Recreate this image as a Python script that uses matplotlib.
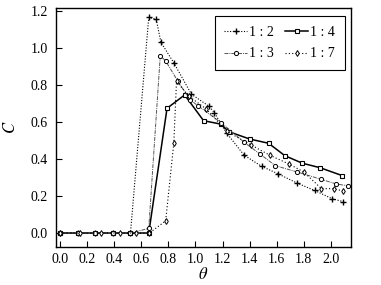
import matplotlib.pyplot as plt

# -------------------------
# DATA
# -------------------------
x_12 = [0.0, 0.13, 0.26, 0.39, 0.52, 0.655, 0.71, 0.745, 0.84, 0.97, 1.10, 1.14,
        1.23, 1.36, 1.49, 1.61, 1.75, 1.88, 2.01, 2.09]
y_12 = [0.0, 0.0, 0.0, 0.0, 0.0, 1.165, 1.155, 1.03, 0.92, 0.75, 0.685, 0.65,
        0.54, 0.42, 0.36, 0.32, 0.27, 0.23, 0.185, 0.17]

x_14 = [0.0, 0.13, 0.26, 0.39, 0.52, 0.655, 0.79, 0.92, 1.06, 1.19, 1.245,
        1.40, 1.54, 1.66, 1.79, 1.92, 2.085]
y_14 = [0.0, 0.0, 0.0, 0.0, 0.0, 0.0, 0.674, 0.746, 0.607, 0.588, 0.548,
        0.508, 0.485, 0.418, 0.377, 0.353, 0.31]

x_13 = [0.0, 0.13, 0.26, 0.39, 0.52, 0.655, 0.74, 0.78, 0.87, 0.96, 1.02,
        1.19, 1.36, 1.48, 1.59, 1.75, 1.93, 2.04, 2.13]
y_13 = [0.0, 0.0, 0.0, 0.0, 0.0, 0.025, 0.958, 0.93, 0.82, 0.72, 0.687,
        0.596, 0.49, 0.425, 0.364, 0.33, 0.29, 0.265, 0.255]

x_17 = [0.0, 0.15, 0.30, 0.44, 0.56, 0.66, 0.78, 0.84, 0.86, 0.95, 1.08,
        1.23, 1.41, 1.55, 1.69, 1.80, 1.93, 2.02, 2.09]
y_17 = [0.0, 0.0, 0.0, 0.0, 0.0, 0.0, 0.066, 0.485, 0.82, 0.74, 0.67,
        0.55, 0.476, 0.42, 0.373, 0.33, 0.24, 0.24, 0.227]

plt.rcParams['font.family'] = 'Liberation Serif'
plt.rcParams['font.size'] = 10
plt.rcParams['mathtext.fontset'] = 'stix'

fig = plt.figure(figsize=(3.81, 2.85), dpi=100)
ax = fig.add_axes([0.147, 0.133, 0.774, 0.839])

l12, = ax.plot(x_12, y_12, color='black', ls=(0, (1, 1.5)), lw=0.8,
               marker='+', ms=4.5, mew=1.0, label='1 : 2')
l14, = ax.plot(x_14, y_14, color='black', ls='-', lw=1.1,
               marker='s', ms=3.2, mfc='white', mew=0.8, label='1 : 4')
l13, = ax.plot(x_13, y_13, color='#555555', ls=(0, (4, 1, 1, 1)), lw=0.7,
               marker='o', ms=3.0, mfc='white', mec='black', mew=0.7, label='1 : 3')
l17, = ax.plot(x_17, y_17, color='black', ls=(0, (1, 2)), lw=0.8,
               marker='d', ms=3.0, mfc='white', mew=0.7, label='1 : 7')

ax.set_xlim(-0.03, 2.148)
ax.set_ylim(-0.076, 1.216)
ax.set_xticks([0.0, 0.2, 0.4, 0.6, 0.8, 1.0, 1.2, 1.4, 1.6, 1.8, 2.0])
ax.set_yticks([0.0, 0.2, 0.4, 0.6, 0.8, 1.0, 1.2])
ax.xaxis.set_major_formatter(plt.FormatStrFormatter('%.1f'))
ax.yaxis.set_major_formatter(plt.FormatStrFormatter('%.1f'))
ax.tick_params(direction='in', length=4, width=0.8, labelsize=10, pad=4)
ax.tick_params(axis='y', pad=6)

for s in ax.spines.values():
    s.set_linewidth(1.0)

ax.set_xlabel(r'$\theta$', fontsize=12, labelpad=1)
ax.set_ylabel(r'$C$', fontsize=12, labelpad=8)

# row-wise legend: 1:2, 1:4 / 1:3, 1:7
leg = ax.legend(handles=[l12, l13, l14, l17], ncol=2, loc='upper right',
                bbox_to_anchor=(0.98, 0.965), borderaxespad=0,
                fancybox=False, edgecolor='black', framealpha=1,
                handlelength=1.6, columnspacing=0.8, handletextpad=0.2,
                borderpad=0.7, labelspacing=0.6, fontsize=10)
leg.get_frame().set_linewidth(0.8)

plt.savefig('out.png', dpi=100)
